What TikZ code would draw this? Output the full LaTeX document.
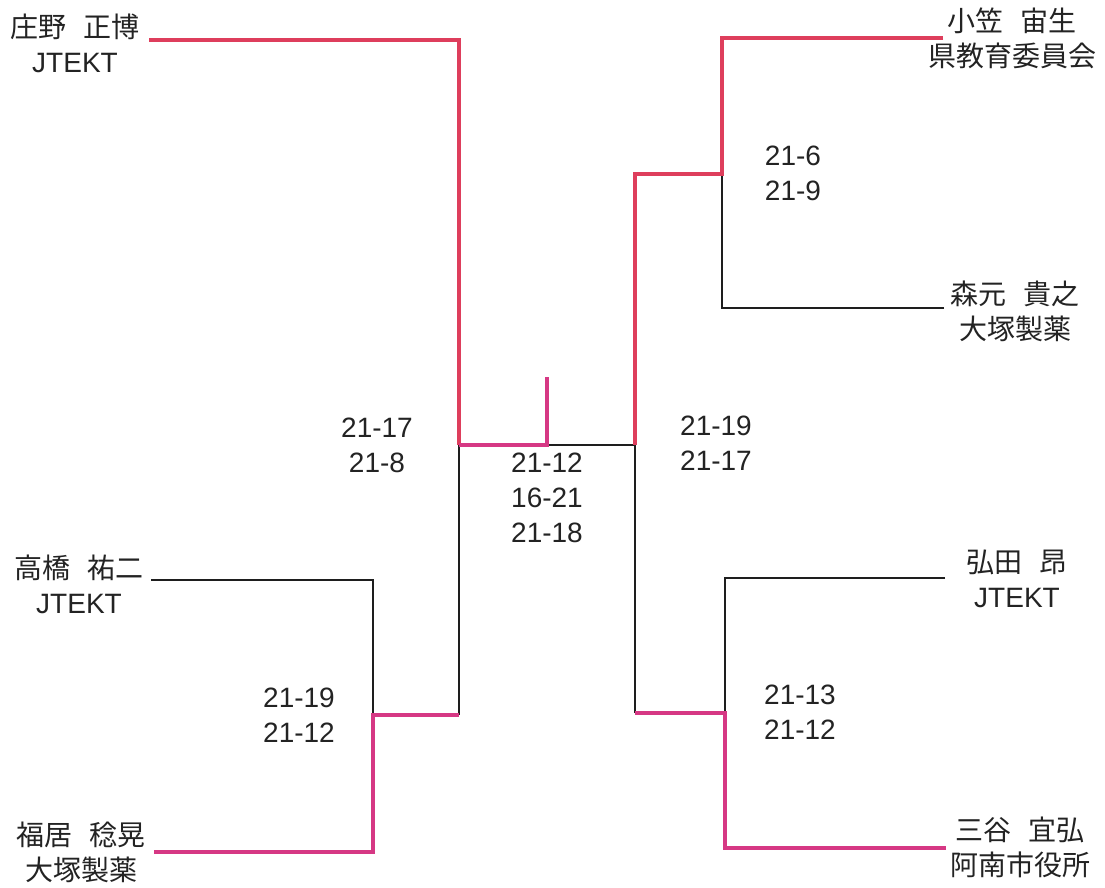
\documentclass[tikz,border=0pt]{standalone}
\usepackage{fontspec}
\setmainfont{Liberation Sans}
\newfontfamily\jp{Noto Sans CJK JP}
\definecolor{winA}{RGB}{222,62,92}
\definecolor{winB}{RGB}{214,56,132}
\definecolor{lossc}{RGB}{30,30,30}
\definecolor{txtc}{RGB}{35,35,35}
\newcommand{\jgap}{\hspace{0.6em}}
\begin{document}
\begin{tikzpicture}[x=1pt,y=-1pt,
  txt/.style={font=\fontsize{28}{35}\selectfont, text=txtc, align=center, inner sep=0pt},
  player/.style={txt},
  score/.style={txt},
  wina/.style={draw=winA, line width=4pt, line join=miter},
  winb/.style={draw=winB, line width=4pt, line join=miter},
  lost/.style={draw=lossc, line width=1.8pt, line join=miter}]
\useasboundingbox[fill=white] (0,0) rectangle (1105,887);

% players
\node[player] (p1) at (75,43) {{\jp 庄野\jgap 正博}\\JTEKT};
\node[player] (p2) at (79,584) {{\jp 高橋\jgap 祐二}\\JTEKT};
\node[player] (p3) at (81,852) {{\jp 福居\jgap 稔晃}\\{\jp 大塚製薬}};
\node[player] (p5) at (1012,38) {{\jp 小笠\jgap 宙生}\\{\jp 県教育委員会}};
\node[player] (p6) at (1015,311) {{\jp 森元\jgap 貴之}\\{\jp 大塚製薬}};
\node[player] (p7) at (1017,579) {{\jp 弘田\jgap 昂}\\JTEKT};
\node[player] (p8) at (1020,847) {{\jp 三谷\jgap 宜弘}\\{\jp 阿南市役所}};

% scores
\node[score] (s1) at (377,445) {21-17\\21-8};
\node[score] (s2) at (299,715) {21-19\\21-12};
\node[score] (s3) at (547,498) {21-12\\16-21\\21-18};
\node[score] (s4) at (716,443) {21-19\\21-17};
\node[score] (s5) at (793,173) {21-6\\21-9};
\node[score] (s6) at (800,712) {21-13\\21-12};

% bracket coordinates
\coordinate (e1) at (149,40);  \coordinate (c1) at (459,40);
\coordinate (j1) at (459,445); \coordinate (fm) at (547,445);
\coordinate (ft) at (547,377); \coordinate (j2) at (635,445);
\coordinate (e2) at (151,580); \coordinate (c2) at (373,580);
\coordinate (m1) at (373,715); \coordinate (k1) at (459,715);
\coordinate (e3) at (154,852); \coordinate (c3) at (373,852);
\coordinate (e5) at (943,38);  \coordinate (c5) at (722,38);
\coordinate (m5) at (722,174); \coordinate (n5) at (635,174);
\coordinate (e6) at (944,308); \coordinate (c6) at (722,308);
\coordinate (e7) at (945,578); \coordinate (c7) at (725,578);
\coordinate (m7) at (725,713); \coordinate (n7) at (635,713);
\coordinate (e8) at (946,848); \coordinate (c8) at (725,848);

% losing lines
\draw[lost] (e2) -- (c2) -- (m1);
\draw[lost] (k1) -- (j1);
\draw[lost] (fm) -- (j2);
\draw[lost] (e6) -- (c6) -- (m5);
\draw[lost] (e7) -- (c7) -- (m7);
\draw[lost] (n7) -- (j2);

% winning lines
\draw[wina] (e1) -- (c1) -- (j1);
\draw[winb] (j1) -- (fm) -- (ft);
\draw[winb] (e3) -- (c3) -- (m1) -- (k1);
\draw[wina] (e5) -- (c5) -- (m5) -- (n5) -- (j2);
\draw[winb] (e8) -- (c8) -- (m7) -- (n7);
\end{tikzpicture}
\end{document}
